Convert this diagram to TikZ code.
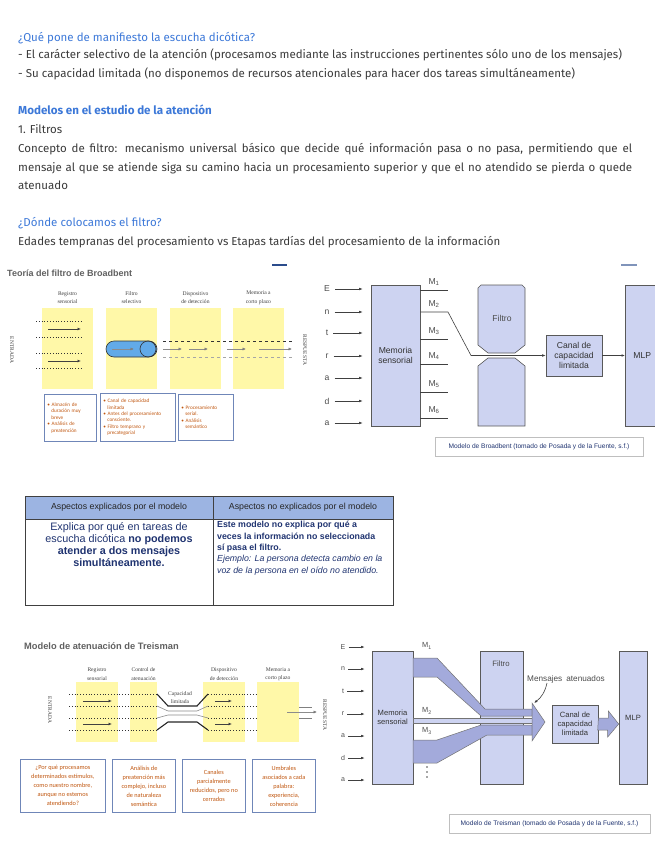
\documentclass[tikz,border=0pt]{standalone}
\usepackage{fontspec}
\setmainfont{Fira Sans}
\newfontfamily\arialf{Liberation Sans}
\newfontfamily\timesf{Liberation Serif}
\newfontfamily\calibrif{Carlito}
\usetikzlibrary{arrows.meta,positioning}
\definecolor{headblue}{HTML}{3C78D8}
\definecolor{bodygray}{HTML}{3A3A3A}
\definecolor{titlegray}{HTML}{606060}
\definecolor{paleyellow}{HTML}{FFF8A8}
\definecolor{lavender}{HTML}{CDD3F1}
\definecolor{bandlav}{HTML}{A3AADB}
\definecolor{noteblue}{HTML}{6F86B8}
\definecolor{noteorange}{HTML}{C0560F}
\definecolor{tubeblue}{HTML}{62AAE8}
\definecolor{tablehead}{HTML}{9CB4E2}
\definecolor{tablenavy}{HTML}{1F3370}
\definecolor{barnavy}{HTML}{2B4C8C}

\tikzset{
  txt/.style={anchor=base west, inner sep=0pt, text=bodygray, font=\fontsize{11.5}{13}\selectfont},
  bluetxt/.style={txt, text=headblue},
  slidetitle/.style={anchor=base west, inner sep=0pt, text=titlegray, font=\arialf\bfseries\fontsize{9}{10}\selectfont},
  colhead/.style={inner sep=0pt, align=center, text=black!75, font=\timesf\fontsize{5.6}{8.5}\selectfont},
  sidelabel/.style={inner sep=0pt, rotate=-90, text=black!75, font=\timesf\fontsize{5.5}{6}\selectfont},
  bnote/.style={draw=noteblue, line width=0.7pt, fill=white, inner sep=2pt, anchor=north west, align=left, text=noteorange, font=\calibrif\fontsize{5.2}{7.4}\selectfont},
  tnote/.style={draw=noteblue, line width=0.7pt, fill=white, inner sep=2pt, anchor=north west, align=center, text=noteorange, font=\calibrif\fontsize{6.3}{9}\selectfont},
  dotline/.style={black!80, line width=0.8pt, dotted},
  smallarr/.style={black!75, line width=0.6pt, -{Latex[length=3.5pt,width=3pt]}},
  greyarr/.style={black!45, line width=0.6pt, -{Latex[length=3.5pt,width=3.2pt,fill=black]}},
  arr/.style={black!75, line width=0.6pt, -{Latex[length=3.5pt,width=2.6pt]}},
  diagtxt/.style={inner sep=0pt, text=black!70, font=\arialf\fontsize{8.6}{10}\selectfont},
  lavbox/.style={draw=black!65, fill=lavender, line width=0.6pt, align=center, inner sep=0pt, text=black!80, font=\arialf\fontsize{8.6}{9.6}\selectfont},
  band/.style={draw=black!55, fill=bandlav, line width=0.5pt},
  caption/.style={draw=black!25, fill=white, minimum width=208, minimum height=19, inner sep=0pt, text=tablenavy, font=\arialf\fontsize{6.6}{7}\selectfont},
  thead/.style={inner sep=0pt, text=black!85, font=\arialf\fontsize{8.8}{10}\selectfont},
  chan/.style={black!85, line width=1.1pt},
  chanlight/.style={black!45, line width=0.6pt},
}

\begin{document}
\begin{tikzpicture}[x=1pt,y=-1pt]
\useasboundingbox (0,0) rectangle (655,848);

% texto de la pagina
\node[bluetxt] (q1) at (18,42) {¿Qué pone de manifiesto la escucha dicótica?};
\node[txt] (q1a) at (18,59) {- El carácter selectivo de la atención (procesamos mediante las instrucciones pertinentes sólo uno de los mensajes)};
\node[txt] (q1b) at (18,78) {- Su capacidad limitada (no disponemos de recursos atencionales para hacer dos tareas simultáneamente)};
\node[bluetxt, font=\bfseries\fontsize{11.6}{13}\selectfont] (mod) at (18,115) {Modelos en el estudio de la atención};
\node[txt] (fil) at (18,133) {1. Filtros};
\node[txt] (c1) at (18,152) {\makebox[614pt][s]{Concepto de filtro: mecanismo universal básico que decide qué información pasa o no pasa, permitiendo que el}};
\node[txt] (c2) at (18,171) {\makebox[614pt][s]{mensaje al que se atiende siga su camino hacia un procesamiento superior y que el no atendido se pierda o quede}};
\node[txt] (c3) at (18,189) {atenuado};
\node[bluetxt] (q2) at (18,226) {¿Dónde colocamos el filtro?};
\node[txt] (q2a) at (18,245) {Edades tempranas del procesamiento vs Etapas tardías del procesamiento de la información};

% Broadbent, diapositiva
\node[slidetitle] (btitle) at (7,276) {Teoría del filtro de Broadbent};
\draw[barnavy, line width=1.5pt] (272,265) -- (287,265);
\draw[barnavy!60, line width=1.5pt] (621,265) -- (637,265);
\foreach \x/\t [count=\i] in {42/{Registro\\sensorial},106/{Filtro\\selectivo},170/{Dispositivo\\de detección},233/{Memoria a\\corto plazo}} {
  \fill[paleyellow] (\x,308) rectangle ++(51,81);
  \node[colhead] (bh\i) at (\x+25.5,297.5) {\t};
}
\node[sidelabel] (bin) at (12,350) {ENTRADA};
\node[sidelabel] (bout) at (305,350) {RESPUESTA};
\foreach \y in {321,337,353,368}
  \draw[dotline] (36,\y) -- (81,\y);
\foreach \y in {329,361}
  \draw[smallarr, line width=0.9pt] (48,\y) -- (81,\y);
\draw[fill=tubeblue, draw=black!80, line width=0.6pt, rounded corners=8pt] (106,341) rectangle (157,357);
\draw[draw=black!80, line width=0.6pt] (148,349) ellipse [x radius=8, y radius=8];
\draw[greyarr] (112,349) -- (134,349);
\draw[black!80, line width=0.8pt, dashed] (163,341) -- (292,341);
\draw[black!35, line width=0.8pt, dashed] (163,357) -- (292,357);
\foreach \a/\b in {163/182,189/208,227/246,259/292}
  \draw[greyarr] (\a,349) -- (\b,349);
\node[bnote, minimum width=52, minimum height=47, text width=46] (bn1) at (44,394) {• Almacén de\\[-1pt]\hspace*{4pt}duración muy\\[-1pt]\hspace*{4pt}breve\\[-1pt]• Análisis de\\[-1pt]\hspace*{4pt}preatención};
\node[bnote, minimum width=75, minimum height=48, text width=69] (bn2) at (100,393) {• Canal de capacidad\\[-1pt]\hspace*{4pt}limitada\\[-1pt]• Antes del procesamiento\\[-1pt]\hspace*{4pt}consciente.\\[-1pt]• Filtro temprano y\\[-1pt]\hspace*{4pt}precategorial};
\node[bnote, minimum width=55, minimum height=46, text width=49] (bn3) at (178,394) {• Procesamiento\\[-1pt]\hspace*{4pt}serial.\\[-1pt]• Análisis\\[-1pt]\hspace*{4pt}semántico};

% Broadbent, esquema
\node[lavbox, minimum width=49, minimum height=141] (bmem) at (395.5,355.5) {Memoria\\sensorial};
\foreach \l/\y [count=\i] in {E/289,n/312,t/333,r/356,a/378,d/401,a/423} {
  \node[diagtxt] (bl\i) at (327,\y) {\l};
  \draw[arr, shorten >=8pt] (bl\i.east) ++(5,0) -- (bl\i -| bmem.west);
}
\draw[draw=black!65, fill=lavender, line width=0.6pt] (478,288) -- (481,285) -- (522,285) -- (525,288) -- (525,345) -- (515,353) -- (488,353) -- (478,345) -- cycle;
\draw[draw=black!65, fill=lavender, line width=0.6pt] (478,366) -- (488,358) -- (515,358) -- (525,366) -- (525,426) -- (478,426) -- cycle;
\node[diagtxt] (bfil) at (502,318) {Filtro};
\node[lavbox, minimum width=56, minimum height=41] (bcan) at (574,355.5) {Canal de\\capacidad\\limitada};
\node[lavbox, minimum width=34, minimum height=141, anchor=west] (bmlp) at (625,355.5) {MLP};
\foreach \y [count=\i] in {290,312,339,364,392,418} {
  \node[diagtxt] (bm\i) at (434,\y-8) {M\textsubscript{\i}};
}
\foreach \y in {290,339,364,392,418}
  \draw[black!75, line width=0.6pt] (420,\y) -- (448,\y);
\draw[arr] (bmem.east |- 0,312) -- (448,312) -- (471,355.5) -- (bcan.west);
\draw[arr] (bcan) -- (bmlp);
\node[caption] (bcap) at (539,447) {Modelo de Broadbent (tomado de Posada y de la Fuente, s.f.)};

% tabla
\fill[tablehead] (25,496) rectangle (393,519);
\draw[black!75, line width=0.8pt] (25,496) rectangle (393,605);
\draw[black!75, line width=0.6pt] (25,519) -- (393,519) (213,496) -- (213,605);
\node[thead] (th1) at (119,507.5) {Aspectos explicados por el modelo};
\node[thead] (th2) at (303,507.5) {Aspectos no explicados por el modelo};
\node[anchor=north, inner sep=0pt, align=center, text=tablenavy, font=\arialf\fontsize{10.8}{12}\selectfont] (tc1) at (119,522) {Explica por qué en tareas de\\escucha dicótica \textbf{no podemos}\\\textbf{atender a dos mensajes}\\\textbf{simultáneamente.}};
\node[anchor=north west, inner sep=0pt, align=left, text=tablenavy, font=\arialf\fontsize{8.8}{11.4}\selectfont] (tc2) at (217,521) {\textbf{Este modelo no explica por qué a}\\\textbf{veces la información no seleccionada}\\\textbf{sí pasa el filtro.}\\\textit{Ejemplo: La persona detecta cambio en la}\\\textit{voz de la persona en el oído no atendido.}};

% Treisman, diapositiva
\node[slidetitle, font=\arialf\bfseries\fontsize{9.3}{10}\selectfont] (ttitle) at (24,649) {Modelo de atenuación de Treisman};
\foreach \x/\w/\t [count=\i] in {76/42/{Registro\\sensorial},130/27/{Control de\\atenuación},203/42/{Dispositivo\\de detección},257/42/{Memoria a\\corto plazo}} {
  \fill[paleyellow] (\x,682) rectangle ++(\w,60);
  \node[colhead] (tr\i) at (\x+\w/2,674) {\t};
}
\node[colhead] (tcl) at (180,697.5) {Capacidad\\limitada};
\node[sidelabel] (tin) at (50,710) {ENTRADA};
\node[sidelabel] (tout) at (325,715) {RESPUESTA};
\foreach \y in {694,706,718,730} {
  \draw[dotline] (69,\y) -- (157,\y);
  \draw[dotline] (208,\y) -- (257,\y);
}
\draw[chanlight] (157,706) -- (168,711) -- (197,711) -- (208,706);
\draw[chanlight] (157,718) -- (168,715) -- (197,715) -- (208,718);
\draw[chan] (157,694) -- (168,706) -- (197,706) -- (208,694);
\draw[chan] (157,730) -- (168,722) -- (197,722) -- (208,730);
\foreach \y in {701,724} {
  \draw[smallarr, line width=0.9pt] (83,\y) -- (112,\y);
  \draw[smallarr, line width=0.9pt] (215,\y) -- (232,\y);
}
\draw[black!50, line width=0.6pt] (299,707) -- (312,707) (299,718) -- (312,718);
\draw[greyarr] (287,712) -- (317,712);
\foreach \x/\w/\t [count=\i] in {20/85/{¿Por qué procesamos\\determinados estímulos,\\como nuestro nombre,\\aunque no estemos\\atendiendo?},112/63/{Análisis de\\preatención más\\complejo, incluso\\de naturaleza\\semántica},182/63/{Canales\\parcialmente\\reducidos, pero no\\cerrados},252/63/{Umbrales\\asociados a cada\\palabra:\\experiencia,\\coherencia}} {
  \node[tnote, minimum width=\w, minimum height=53] (tn\i) at (\x,759) {\t};
}

% Treisman, esquema
\node[lavbox, minimum width=41, minimum height=133, font=\arialf\fontsize{7.6}{8.8}\selectfont] (tmem) at (392.5,717.5) {Memoria\\sensorial};
\foreach \l/\y [count=\i] in {E/647,n/669,t/691,r/714,a/736,d/758,a/780} {
  \node[diagtxt, font=\arialf\fontsize{7}{8}\selectfont] (tl\i) at (343,\y) {\l};
  \draw[arr, shorten >=7pt] (tl\i.east) ++(3,0) -- (tl\i -| tmem.west);
}
\node[lavbox, minimum width=43, minimum height=133] (tfil) at (501.5,717.5) {};
\node[diagtxt, font=\arialf\fontsize{7.8}{9}\selectfont] (tfillab) at (501,664) {Filtro};
\node[lavbox, minimum width=28, minimum height=133, font=\arialf\fontsize{7.6}{8}\selectfont] (tmlp) at (633,717.5) {MLP};
\node[lavbox, minimum width=46, minimum height=38, line width=0.8pt, font=\arialf\fontsize{7.6}{8.8}\selectfont] (tcan) at (575,724) {Canal de\\capacidad\\limitada};
\draw[band] (413,658) -- (437,658) -- (485,709) -- (532,709) -- (532,716) -- (481,716) -- (437,677) -- (413,677) -- cycle;
\draw[band, fill=lavender] (413,718) rectangle (532,723);
\draw[band] (413,740) -- (437,740) -- (481,725) -- (532,725) -- (532,735) -- (487,735) -- (437,763) -- (413,763) -- cycle;
\draw[band] (532,703) -- (545,722) -- (532,741) -- cycle;
\coordinate (thead) at (534,703);
\draw[band] (tcan.east) ++(0,-6) -- ++(10,0) -- ++(0,-7) -- (tcan.east -| tmlp.west) -- ++(-11,13) -- ++(0,-7) -- ++(-10,0) -- cycle;
\node[diagtxt, font=\arialf\fontsize{7.4}{8}\selectfont] (tm1) at (427,646) {M\textsubscript{1}};
\node[diagtxt, font=\arialf\fontsize{7.4}{8}\selectfont] (tm2) at (427,711) {M\textsubscript{2}};
\node[diagtxt, font=\arialf\fontsize{7.4}{8}\selectfont] (tm3) at (427,731) {M\textsubscript{3}};
\foreach \y in {767,772,777}
  \fill[black!70] (427,\y) circle [radius=0.8];
\node[diagtxt, anchor=west, font=\arialf\fontsize{8.2}{9}\selectfont] (tmsg) at (527,679) {Mensajes\enspace atenuados};
\draw[arr] ([xshift=20pt]tmsg.south west) to[bend left=20] (thead);
\node[caption, minimum width=201] (tcap) at (549.5,824) {Modelo de Treisman (tomado de Posada y de la Fuente, s.f.)};
\end{tikzpicture}
\end{document}
